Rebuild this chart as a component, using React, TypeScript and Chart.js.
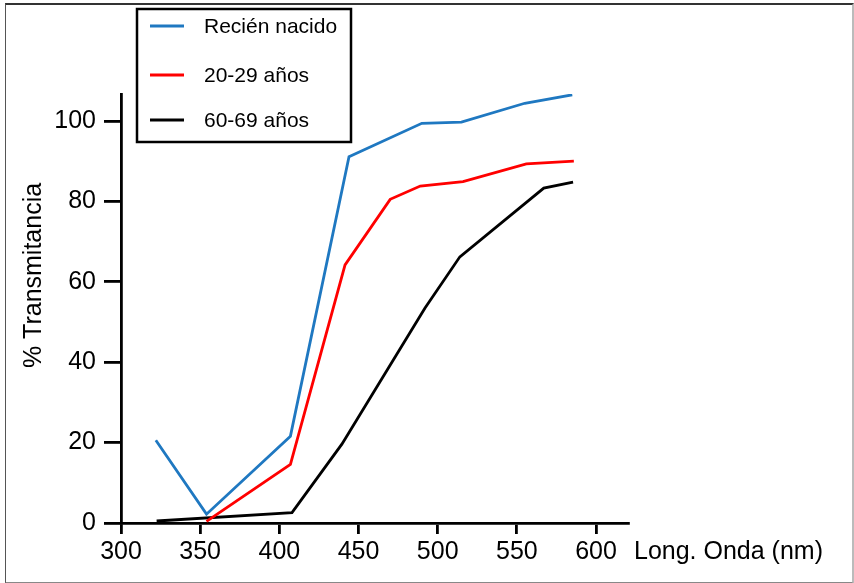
import React, { useEffect, useRef } from 'react';
import { Chart, registerables } from 'chart.js';

Chart.register(...registerables);

// ---- data ----
const seriesLabels = ['Recién nacido', '20-29 años', '60-69 años'];

const newbornNm = [322, 354, 407, 444, 490, 515, 555, 585];
const newbornT = [20.6, 2.2, 21.6, 91.1, 99.4, 99.7, 104.4, 106.5];

const adultNm = [354, 407, 441.5, 470, 489, 516, 556, 586];
const adultT = [0.4, 14.6, 64.2, 80.5, 83.8, 84.9, 89.3, 90.0];

const elderNm = [322.5, 408, 439.5, 492, 514, 567, 585.5];
const elderT = [0.5, 2.6, 19.6, 53.5, 66.2, 83.3, 84.8];

const xTickValues = [300, 350, 400, 450, 500, 550, 600];
const yTickValues = [0, 20, 40, 60, 80, 100];

const xTitle = 'Long. Onda (nm)';
const yTitle = '% Transmitancia';

const seriesColors = ['#1f78c1', '#ff0000', '#000000'];

const FONT = '"Liberation Sans", Arial, sans-serif';

const toPoints = (xs: number[], ys: number[]) => xs.map((x, i) => ({ x, y: ys[i] }));

const decorPlugin = {
  id: 'decor',
  afterDraw(chart: any) {
    const ctx = chart.ctx as CanvasRenderingContext2D;
    const xs = chart.scales.x;
    const area = chart.chartArea;
    ctx.save();
    ctx.fillStyle = '#000';
    // x title to the right of the axis
    ctx.font = `25px ${FONT}`;
    ctx.textAlign = 'left';
    ctx.textBaseline = 'middle';
    ctx.fillText(xTitle, xs.right + 6, xs.top + 29);
    // y title rotated
    ctx.save();
    ctx.translate(34, (area.top + area.bottom) / 2 - 33);
    ctx.rotate(-Math.PI / 2);
    ctx.textAlign = 'center';
    ctx.textBaseline = 'middle';
    ctx.fillText(yTitle, 0, 0);
    ctx.restore();

    // legend box
    const bx = 137, by = 9, bw = 214, bh = 133;
    ctx.lineWidth = 2.5;
    ctx.strokeStyle = '#000';
    ctx.strokeRect(bx, by, bw, bh);
    const rowY = [26, 75, 120];
    ctx.font = `21px ${FONT}`;
    ctx.textAlign = 'left';
    ctx.textBaseline = 'middle';
    chart.data.datasets.forEach((ds: any, i: number) => {
      const y = rowY[i];
      ctx.beginPath();
      ctx.lineWidth = 3;
      ctx.strokeStyle = ds.borderColor;
      ctx.moveTo(150, y);
      ctx.lineTo(184, y);
      ctx.stroke();
      ctx.fillStyle = '#000';
      ctx.fillText(ds.label, 204, y + 1);
    });
    ctx.restore();
  },
};

export default function App() {
  const ref = useRef<HTMLCanvasElement | null>(null);

  useEffect(() => {
    document.body.style.margin = '0';
    if (!ref.current) return;
    const chart = new Chart(ref.current, {
      type: 'line',
      data: {
        datasets: [
          { label: seriesLabels[0], data: toPoints(newbornNm, newbornT), borderColor: seriesColors[0] },
          { label: seriesLabels[1], data: toPoints(adultNm, adultT), borderColor: seriesColors[1] },
          { label: seriesLabels[2], data: toPoints(elderNm, elderT), borderColor: seriesColors[2] },
        ],
      },
      options: {
        animation: false,
        responsive: false,
        layout: { padding: { left: 0, top: 94, right: 226, bottom: 0 } },
        plugins: { legend: { display: false }, tooltip: { enabled: false } },
        elements: {
          point: { radius: 0 },
          line: { borderWidth: 2.8, tension: 0, fill: false },
        },
        scales: {
          x: {
            type: 'linear',
            position: 'bottom',
            min: 300,
            max: 620.2,
            afterBuildTicks: (s: any) => {
              s.ticks = xTickValues.map((v) => ({ value: v }));
            },
            afterFit: (s: any) => {
              s.height = 60;
            },
            grid: { drawOnChartArea: false, drawTicks: true, tickLength: 11, lineWidth: 2.8, color: '#000' },
            border: { display: true, color: '#000', width: 2.8 },
            ticks: { color: '#000', font: { size: 25, family: FONT }, padding: 3, maxRotation: 0, autoSkip: false },
          },
          y: {
            type: 'linear',
            position: 'left',
            min: 0,
            max: 106.7,
            afterBuildTicks: (s: any) => {
              s.ticks = yTickValues.map((v) => ({ value: v }));
            },
            afterFit: (s: any) => {
              s.width = 121;
            },
            grid: { drawOnChartArea: false, drawTicks: true, tickLength: 17, lineWidth: 2.8, color: '#000' },
            border: { display: true, color: '#000', width: 2.8 },
            ticks: { color: '#000', font: { size: 25, family: FONT }, padding: 8, autoSkip: false },
          },
        } as any,
      },
      plugins: [decorPlugin],
    });
    return () => chart.destroy();
  }, []);

  return (
    <div style={{ position: 'relative', width: 854, height: 583, background: '#fff' }}>
      <canvas ref={ref} width={854} height={583} style={{ display: 'block' }} />
      <div
        style={{
          position: 'absolute',
          left: 5,
          top: 3,
          width: 846,
          height: 577,
          borderTop: '2px solid #333',
          borderLeft: '1px solid #555',
          borderRight: '2px solid #bbb',
          borderBottom: '2px solid #888',
          pointerEvents: 'none',
        }}
      />
    </div>
  );
}
